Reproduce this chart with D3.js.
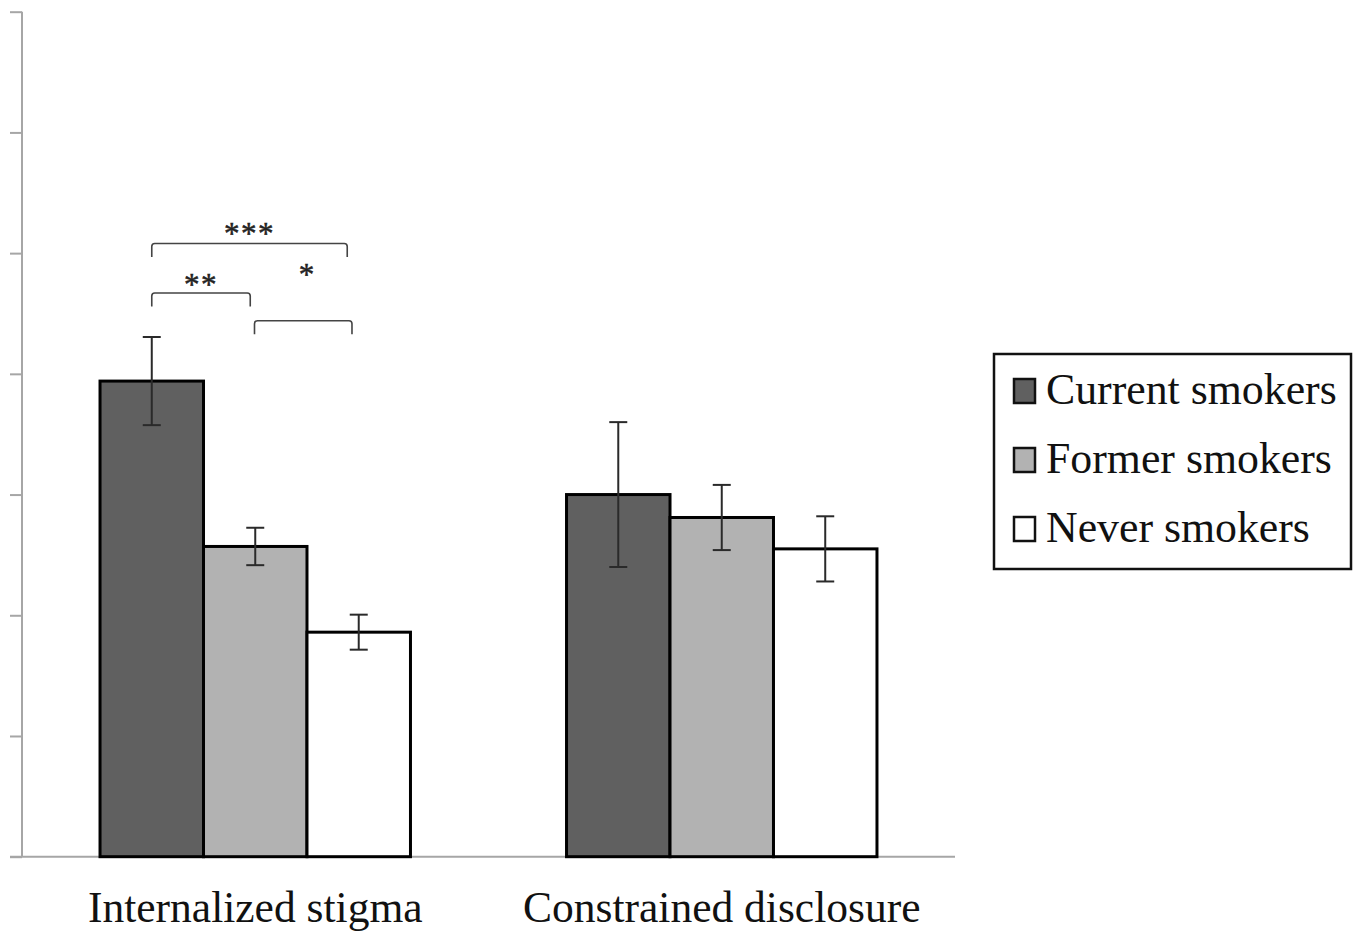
<!DOCTYPE html>
<html>
<head>
<meta charset="utf-8">
<script src="https://cdn.jsdelivr.net/npm/d3@7/dist/d3.min.js"></script>
<style>
  html, body { margin: 0; padding: 0; background: #fff; }
  svg { display: block; }
  text { font-family: "Liberation Serif", "Times New Roman", serif; }
</style>
</head>
<body>
<svg id="chart" width="1360" height="935"></svg>
<script>
// ---------- data ----------
const categories = ["Internalized stigma", "Constrained disclosure"];
const series = ["Current smokers", "Former smokers", "Never smokers"];
const currentMeans = [3.94, 3.00];
const formerMeans  = [2.57, 2.81];
const neverMeans   = [1.86, 2.55];
const currentErr = [0.365, 0.60];
const formerErr  = [0.155, 0.27];
const neverErr   = [0.145, 0.27];
const yTicks = [0, 1, 2, 3, 4, 5, 6, 7];
// significance brackets (Internalized stigma)
const sigFrom   = ["Current smokers", "Current smokers", "Former smokers"];
const sigTo     = ["Never smokers", "Former smokers", "Never smokers"];
const sigLabel  = ["***", "**", "*"];
const sigLevel  = [5.08, 4.67, 4.44];
const sigLabelLevel = [5.20, 4.78, 4.86];

const fills = ["#606060", "#b2b2b2", "#ffffff"];

// ---------- layout ----------
const svg = d3.select("#chart");
const axisLeft = 22, axisRight = 955, yTop = 11.7, yBottom = 856.7;

const y = d3.scaleLinear().domain([0, 7]).range([yBottom, yTop]);
const x0 = d3.scaleBand().domain(categories).range([axisLeft, axisRight]).padding(0);
const x1 = d3.scaleBand().domain(series).range([0, x0.bandwidth()]).paddingInner(0).paddingOuter(0.754);

const means = [currentMeans, formerMeans, neverMeans];
const errs = [currentErr, formerErr, neverErr];
const rows = [];
categories.forEach((c, ci) => {
  series.forEach((s, si) => {
    rows.push({ cat: c, ser: s, si, v: means[si][ci], e: errs[si][ci] });
  });
});

// ---------- axes ----------
const axisColor = "#a6a6a6";
const yAxis = svg.append("g")
  .attr("transform", `translate(${axisLeft},0)`)
  .call(d3.axisLeft(y).tickValues(yTicks).tickSize(12).tickFormat(""));
yAxis.select(".domain").attr("stroke", axisColor).attr("stroke-width", 2)
  .attr("d", `M0,${yTop}V${yBottom}`);
yAxis.selectAll(".tick line").attr("stroke", axisColor).attr("stroke-width", 2);

// x axis line
svg.append("line")
  .attr("x1", 10).attr("x2", axisRight)
  .attr("y1", y(0)).attr("y2", y(0))
  .attr("stroke", axisColor).attr("stroke-width", 2);

// ---------- bars ----------
svg.append("g").selectAll("rect")
  .data(rows).join("rect")
  .attr("x", d => x0(d.cat) + x1(d.ser))
  .attr("y", d => y(d.v))
  .attr("width", x1.bandwidth())
  .attr("height", d => y(0) - y(d.v))
  .attr("fill", d => fills[d.si])
  .attr("stroke", "#000")
  .attr("stroke-width", 3);

// ---------- error bars ----------
const eb = svg.append("g").attr("stroke", "#2a2a2a").attr("stroke-width", 2);
rows.forEach(d => {
  const cx = x0(d.cat) + x1(d.ser) + x1.bandwidth() / 2;
  const capW = 9;
  eb.append("line").attr("x1", cx).attr("x2", cx).attr("y1", y(d.v + d.e)).attr("y2", y(d.v - d.e));
  eb.append("line").attr("x1", cx - capW).attr("x2", cx + capW).attr("y1", y(d.v + d.e)).attr("y2", y(d.v + d.e));
  eb.append("line").attr("x1", cx - capW).attr("x2", cx + capW).attr("y1", y(d.v - d.e)).attr("y2", y(d.v - d.e));
});

// ---------- significance brackets ----------
const sigInsetL = [0, 0, -0.75];
const sigInsetR = [-11.5, -5, -6.75];
const cat0 = categories[0];
const sg = svg.append("g");
sigLabel.forEach((lab, i) => {
  const xa = x0(cat0) + x1(sigFrom[i]) + x1.bandwidth() / 2 + sigInsetL[i];
  const xb = x0(cat0) + x1(sigTo[i]) + x1.bandwidth() / 2 + sigInsetR[i];
  const yb = y(sigLevel[i]);
  const leg = 13.5, r = 3;
  sg.append("path")
    .attr("d", `M${xa},${yb + leg}V${yb + r}Q${xa},${yb} ${xa + r},${yb}H${xb - r}Q${xb},${yb} ${xb},${yb + r}V${yb + leg}`)
    .attr("fill", "none").attr("stroke", "#444").attr("stroke-width", 1.6);
  const lx = i === 2 ? xa + (xb - xa) / 2 + 4 : (xa + xb) / 2;
  sg.append("text")
    .attr("x", lx)
    .attr("y", y(sigLabelLevel[i]) + 15)
    .attr("text-anchor", "middle")
    .attr("font-size", 31)
    .attr("letter-spacing", 1.5)
    .attr("fill", "#222")
    .attr("stroke", "#222")
    .attr("stroke-width", 0.5)
    .text(lab);
});

// ---------- category labels ----------
svg.append("g").selectAll("text")
  .data(categories).join("text")
  .attr("x", d => x0(d) + x0.bandwidth() / 2)
  .attr("y", 921.5)
  .attr("text-anchor", "middle")
  .attr("font-size", 43.5)
  .attr("fill", "#111")
  .text(d => d);

// ---------- legend ----------
const lg = svg.append("g");
lg.append("rect")
  .attr("x", 994).attr("y", 354).attr("width", 357).attr("height", 215)
  .attr("fill", "#fff").attr("stroke", "#111").attr("stroke-width", 2.5);
const legRowY = d3.scalePoint().domain(series).range([404, 542]);
series.forEach((s, i) => {
  const by = legRowY(s);
  lg.append("rect")
    .attr("x", 1014).attr("y", by - 25).attr("width", 21).attr("height", 24)
    .attr("fill", fills[i]).attr("stroke", "#111").attr("stroke-width", 2.5);
  lg.append("text")
    .attr("x", 1046).attr("y", by)
    .attr("font-size", 43.8)
    .attr("fill", "#111")
    .text(s);
});
</script>
</body>
</html>
